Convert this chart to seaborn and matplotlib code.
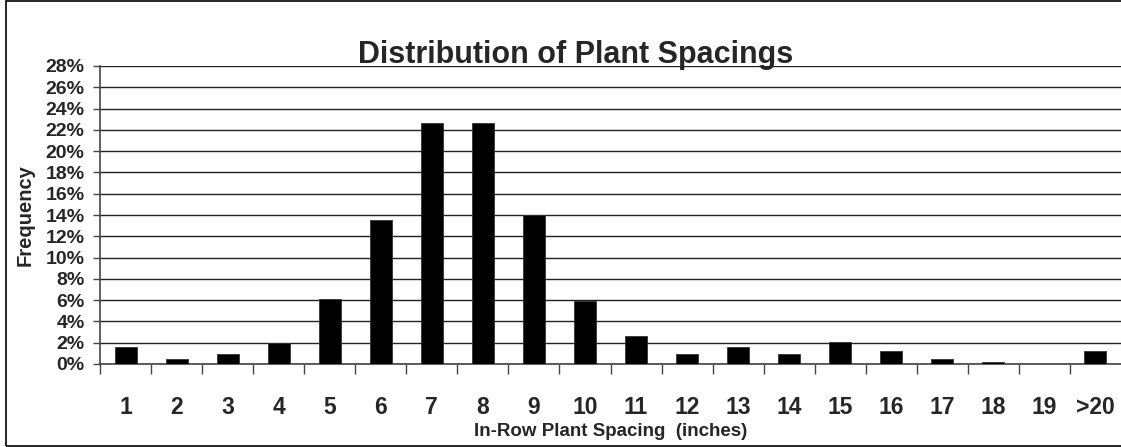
import matplotlib
matplotlib.use("Agg")
import matplotlib.pyplot as plt
import seaborn as sns
import pandas as pd
from matplotlib.patches import Rectangle
from matplotlib.ticker import FixedLocator, FuncFormatter

# --- data ---
spacing = ["1", "2", "3", "4", "5", "6", "7", "8", "9", "10",
           "11", "12", "13", "14", "15", "16", "17", "18", "19", ">20"]
freq_pct = [1.6, 0.5, 0.9, 2.0, 6.1, 13.5, 22.6, 22.6, 14.0, 5.95,
            2.65, 0.9, 1.6, 0.9, 2.05, 1.2, 0.5, 0.2, 0.0, 1.2]
y_ticks = list(range(0, 30, 2))

df = pd.DataFrame({"spacing": spacing, "freq": freq_pct})

sns.set_style("white")
plt.rcParams["font.family"] = ["Liberation Sans", "DejaVu Sans"]
plt.rcParams["font.weight"] = "bold"

fig = plt.figure(figsize=(11.21, 4.47), dpi=100)
ax = fig.add_axes([100 / 1121, 1 - 364 / 447, 1 - 100 / 1121, 298 / 447])

sns.barplot(data=df, x="spacing", y="freq", color="black", width=0.43,
            saturation=1, edgecolor="#333333", linewidth=0.6, ax=ax, zorder=3)

# y axis
ax.set_ylim(0, 28)
ax.set_yticks(y_ticks)
ax.yaxis.set_major_formatter(FuncFormatter(lambda v, p: f"{int(v)}%"))
ax.yaxis.grid(True, color="#222222", linewidth=1.0, zorder=0)
ax.tick_params(axis="y", left=True, length=5, width=1, color="#444444", pad=6,
               labelsize=14)

# x axis: tick marks between categories, labels below
ax.set_xlim(-0.5, len(spacing) - 0.5)
ax.xaxis.set_minor_locator(FixedLocator([i - 0.5 for i in range(len(spacing))]))
ax.tick_params(axis="x", which="minor", bottom=True, length=7, width=1,
               color="#444444")
ax.tick_params(axis="x", which="major", bottom=True, length=0, pad=23,
               labelsize=16.5)

for s in ["top", "right"]:
    ax.spines[s].set_visible(False)
for s in ["left", "bottom"]:
    ax.spines[s].set_color("#444444")
    ax.spines[s].set_linewidth(1.2)

ax.set_xlabel("In-Row Plant Spacing  (inches)", fontsize=13.5,
              fontweight="bold", labelpad=3)
ax.set_ylabel("Frequency", fontsize=14.5, fontweight="bold", labelpad=8)

fig.text(576 / 1121, 1 - 63 / 447, "Distribution of Plant Spacings",
         ha="center", va="baseline", fontsize=22, fontweight="bold")

# outer chart border
fig.patches.append(Rectangle((6 / 1121, 1 / 447), 1.2, 1 - 2 / 447,
                             transform=fig.transFigure, fill=False,
                             edgecolor="black", linewidth=1.2))

fig.savefig("out.png", dpi=100)
